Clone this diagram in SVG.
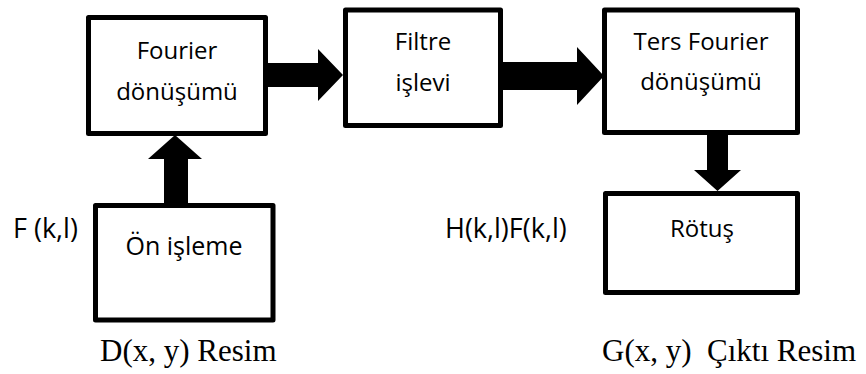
<svg xmlns="http://www.w3.org/2000/svg" width="866" height="374" viewBox="0 0 866 374">
  <style>
    .box { fill: #ffffff; stroke: #000000; stroke-width: 5; stroke-linejoin: round; }
    .arrow { fill: #000000; stroke: none; }
    .t { font-family: "Open Sans", "Liberation Sans", sans-serif; font-size: 24px; fill: #000000; text-anchor: middle; }
    .lbl { font-family: "Open Sans", "Liberation Sans", sans-serif; font-size: 27px; fill: #000000; }
    .cap { font-family: "Liberation Serif", "Times New Roman", serif; font-size: 31px; fill: #000000; white-space: pre; }
  </style>
  <rect width="866" height="374" fill="#ffffff"/>

  <!-- block arrows between the stages -->
  <g id="connectors">
    <polygon class="arrow" points="266,63 318,63 318,49 343,75 318,101 318,87 266,87"/>
    <polygon class="arrow" points="500,62 577,62 577,47 604,76 577,105 577,90 500,90"/>
    <polygon class="arrow" points="707,132 728,132 728,170 741,170 717.5,191 694,170 707,170"/>
    <polygon class="arrow" points="164,206 188,206 188,159 202,159 175,135 148,159 164,159"/>
  </g>

  <g id="fourier">
    <rect class="box" x="88.5" y="17.5" width="177" height="116"/>
    <text class="t" x="177" y="59">Fourier</text>
    <text class="t" x="177" y="100">dönüşümü</text>
  </g>

  <g id="filter">
    <rect class="box" x="345.5" y="10" width="155" height="115.5"/>
    <text class="t" x="423" y="50">Filtre</text>
    <text class="t" x="423" y="91">işlevi</text>
  </g>

  <g id="inverse-fourier">
    <rect class="box" x="604.5" y="10" width="193" height="122.5"/>
    <text class="t" x="701" y="50">Ters Fourier</text>
    <text class="t" x="701" y="90">dönüşümü</text>
  </g>

  <g id="preprocess">
    <rect class="box" x="95.5" y="205.5" width="177.5" height="114.5"/>
    <text class="t" x="184" y="255" style="font-size:25px">Ön işleme</text>
  </g>

  <g id="retouch">
    <rect class="box" x="605.5" y="193.5" width="192" height="99"/>
    <text class="t" x="702" y="237">Rötuş</text>
  </g>

  <g id="labels">
    <text class="lbl" x="13" y="238">F (k,l)</text>
    <text class="lbl" x="445" y="238">H(k,l)F(k,l)</text>
    <text class="cap" x="100" y="361">D(x, y) Resim</text>
    <text class="cap" x="602" y="361" xml:space="preserve">G(x, y)  Çıktı Resim</text>
  </g>
</svg>
